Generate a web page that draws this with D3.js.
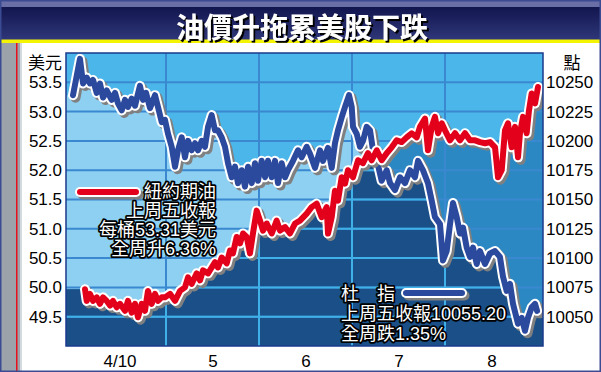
<!DOCTYPE html>
<html>
<head>
<meta charset="utf-8">
<script src="https://d3js.org/d3.v7.min.js"></script>
<style>
body{margin:0;background:#fff;}
svg{display:block;}
text{font-family:"Liberation Sans","Noto Sans CJK TC",sans-serif;}
</style>
</head>
<body>
<svg id="chart" width="601" height="372"></svg>
<script>
var title = "油價升拖累美股下跌";
var dayLabels = ["4/10", "5", "6", "7", "8"];
var dayTicks = [0.5, 1.5, 2.5, 3.5, 4.5];
var dayBounds = [1, 2, 3, 4];
var oilTicks = [49.5, 50.0, 50.5, 51.0, 51.5, 52.0, 52.5, 53.0, 53.5];
var dowTicks = [10050, 10075, 10100, 10125, 10150, 10175, 10200, 10225, 10250];
var oilNote = ["紐約期油", "上周五收報", "每桶53.31美元", "全周升6.36%"];
var dowNote = ["杜　指", "上周五收報10055.20", "全周跌1.35%"];

// [day, points]
var dow = [
  [0,10239],[0.075,10270],[0.108,10249],[0.147,10254],[0.183,10249],[0.215,10252],[0.255,10241],
  [0.29,10249],[0.323,10237],[0.362,10243],[0.416,10235],[0.452,10241],[0.484,10232],[0.524,10226],
  [0.559,10235],[0.591,10229],[0.631,10236],[0.667,10230],[0.72,10247],[0.753,10235],[0.785,10241],
  [0.828,10228],[0.882,10239],[0.914,10229],[0.954,10216],[0.989,10218],[1.022,10206],[1.061,10195],
  [1.097,10178],[1.129,10192],[1.169,10203],[1.204,10186],[1.237,10200],[1.276,10192],[1.312,10198],
  [1.344,10192],[1.384,10200],[1.419,10195],[1.452,10212],[1.491,10222],[1.527,10209],[1.559,10209],
  [1.599,10203],[1.634,10195],[1.667,10181],[1.706,10169],[1.742,10178],[1.774,10164],[1.814,10175],
  [1.849,10161],[1.882,10178],[1.922,10164],[1.957,10181],[1.989,10166],[2.029,10183],[2.065,10169],
  [2.097,10183],[2.137,10169],[2.172,10183],[2.204,10164],[2.244,10181],[2.28,10169],[2.312,10175],
  [2.366,10183],[2.419,10192],[2.459,10186],[2.513,10195],[2.548,10189],[2.602,10177],[2.656,10192],
  [2.688,10183],[2.742,10194],[2.782,10177],[2.817,10198],[2.849,10209],[2.889,10220],[2.925,10229],
  [2.968,10239],[2.997,10229],[3.011,10212],[3.051,10206],[3.086,10195],[3.118,10200],[3.158,10212],
  [3.194,10209],[3.226,10192],[3.269,10183],[3.319,10166],[3.373,10175],[3.409,10164],[3.462,10158],
  [3.516,10169],[3.57,10164],[3.624,10175],[3.677,10169],[3.71,10183],[3.763,10175],[3.817,10164],
  [3.857,10149],[3.892,10135],[3.946,10129],[3.978,10098],[4.018,10106],[4.054,10129],[4.086,10147],
  [4.126,10135],[4.161,10121],[4.194,10126],[4.233,10109],[4.269,10101],[4.301,10109],[4.341,10095],
  [4.376,10106],[4.43,10095],[4.484,10104],[4.538,10106],[4.591,10101],[4.624,10084],[4.663,10072],
  [4.699,10078],[4.731,10061],[4.785,10044],[4.825,10049],[4.86,10038],[4.892,10049],[4.932,10058],
  [4.968,10061],[4.99,10055]
];

// [day, US$]
var oil = [
  [0.129,49.97],[0.147,49.77],[0.183,49.89],[0.215,49.77],[0.255,49.83],[0.29,49.72],[0.323,49.83],
  [0.362,49.77],[0.398,49.69],[0.43,49.77],[0.47,49.66],[0.505,49.72],[0.559,49.6],[0.591,49.77],
  [0.631,49.57],[0.667,49.72],[0.699,49.49],[0.739,49.72],[0.774,49.6],[0.806,49.94],[0.846,49.72],
  [0.882,49.89],[0.914,49.77],[0.954,49.83],[0.989,49.83],[1.043,49.89],[1.097,49.77],[1.151,49.94],
  [1.204,50.0],[1.237,50.17],[1.276,50.06],[1.33,50.24],[1.366,50.12],[1.398,50.29],[1.452,50.24],
  [1.491,50.34],[1.527,50.43],[1.559,50.34],[1.599,50.51],[1.653,50.41],[1.688,50.63],[1.72,50.58],
  [1.76,50.86],[1.796,50.75],[1.828,50.92],[1.868,50.86],[1.903,50.58],[1.935,50.92],[1.975,51.31],
  [2.011,51.14],[2.043,50.97],[2.083,51.09],[2.137,50.92],[2.19,51.14],[2.226,50.97],[2.28,51.03],
  [2.333,50.92],[2.387,51.09],[2.441,51.14],[2.513,51.26],[2.566,51.37],[2.62,51.43],[2.674,51.2],
  [2.728,51.37],[2.742,50.92],[2.782,51.2],[2.817,51.65],[2.849,51.48],[2.889,51.88],[2.925,51.77],
  [2.957,52.0],[3.011,51.88],[3.065,52.17],[3.118,52.12],[3.172,52.29],[3.212,52.17],[3.266,52.34],
  [3.319,52.17],[3.373,52.29],[3.427,52.39],[3.481,52.51],[3.534,52.48],[3.588,52.56],[3.642,52.63],
  [3.696,52.56],[3.731,52.74],[3.785,52.88],[3.817,52.34],[3.857,52.74],[3.892,52.91],[3.925,52.63],
  [3.965,52.8],[4.0,52.68],[4.054,52.51],[4.108,52.63],[4.161,52.51],[4.215,52.63],[4.269,52.51],
  [4.323,52.51],[4.376,52.48],[4.43,52.46],[4.484,52.48],[4.538,52.39],[4.57,51.88],[4.61,52.0],
  [4.645,52.68],[4.677,52.8],[4.717,52.39],[4.753,52.74],[4.785,52.22],[4.806,52.63],[4.839,52.91],
  [4.878,52.63],[4.903,53.02],[4.932,53.31],[4.968,53.14],[5.0,53.42]
];

var W = 601, H = 372;
var plot = {left: 66, right: 543, top: 53, bottom: 346};
var svg = d3.select("#chart");
var defs = svg.append("defs");

// frame / title bar
var grad = defs.append("linearGradient").attr("id", "tg")
  .attr("x1", 0).attr("y1", 0).attr("x2", 0).attr("y2", 1);
grad.append("stop").attr("offset", "0%").attr("stop-color", "#12164f");
grad.append("stop").attr("offset", "100%").attr("stop-color", "#2f3779");
var shadow = defs.append("filter").attr("id", "ts").attr("x", "-10%").attr("y", "-30%")
  .attr("width", "120%").attr("height", "160%");
shadow.append("feDropShadow").attr("dx", 2).attr("dy", 2).attr("stdDeviation", 0.6)
  .attr("flood-color", "#000").attr("flood-opacity", 1);

svg.append("rect").attr("x", 0).attr("y", 0).attr("width", W).attr("height", 8).attr("fill", "#6a6ea6");
svg.append("rect").attr("x", 0).attr("y", 7).attr("width", W).attr("height", 33).attr("fill", "url(#tg)");
svg.append("rect").attr("x", 0).attr("y", 39.5).attr("width", W).attr("height", 3.5).attr("fill", "#f4f400");
svg.append("rect").attr("x", 0).attr("y", 43).attr("width", 20).attr("height", H - 43).attr("fill", "#9ba2aa");
svg.append("rect").attr("x", 20).attr("y", 43).attr("width", 2).attr("height", H - 43).attr("fill", "#d5dae0");
svg.append("rect").attr("x", 16).attr("y", 43).attr("width", 1.5).attr("height", H - 43).attr("fill", "#e8101c");

svg.append("text").attr("x", 302).attr("y", 38).attr("text-anchor", "middle")
  .attr("font-size", 28).attr("font-weight", "bold").attr("fill", "#fff")
  .attr("filter", "url(#ts)")
  .text(title);

// scales
var x = d3.scaleLinear().domain([0, 5]).range([73, 538]);
var y = d3.scaleLinear().domain([49, 54]).range([plot.bottom, plot.top]);
var y2 = d3.scaleLinear().domain([10025, 10275]).range([plot.bottom, plot.top]);

function extend(d) {
  return [[x.invert(plot.left), d[0][1]]].concat(d, [[x.invert(plot.right), d[d.length - 1][1]]]);
}
var dowArea = d3.area().x(d => x(d[0])).y0(plot.bottom).y1(d => y2(d[1]));
var oilArea = d3.area().x(d => x(d[0])).y0(plot.bottom).y1(d => y(d[1]));
var dowLine = d3.line().x(d => x(d[0])).y(d => y2(d[1]));
var oilLine = d3.line().x(d => x(d[0])).y(d => y(d[1]));

defs.append("clipPath").attr("id", "plotClip").append("rect")
  .attr("x", plot.left).attr("y", plot.top)
  .attr("width", plot.right - plot.left).attr("height", plot.bottom - plot.top);
defs.append("clipPath").attr("id", "dowClip").append("path").attr("d", dowArea(extend(dow)));
defs.append("clipPath").attr("id", "oilClip").append("path").attr("d", oilArea(extend(oil)));

var g = svg.append("g").attr("clip-path", "url(#plotClip)");
g.append("rect").attr("x", plot.left).attr("y", plot.top)
  .attr("width", plot.right - plot.left).attr("height", plot.bottom - plot.top).attr("fill", "#4ab6e9");
g.append("path").attr("d", dowArea(extend(dow))).attr("fill", "#8dd0f2");
g.append("path").attr("d", oilArea(extend(oil))).attr("fill", "#2c88c2");
g.append("g").attr("clip-path", "url(#dowClip)")
  .append("path").attr("d", oilArea(extend(oil))).attr("fill", "#1a4f87");

function grid(sel, color) {
  sel.selectAll(".h").data(oilTicks).enter().append("line")
    .attr("x1", plot.left).attr("x2", plot.right)
    .attr("y1", d => y(d)).attr("y2", d => y(d))
    .attr("stroke", color).attr("stroke-width", 2);
  sel.selectAll(".v").data(dayBounds).enter().append("line")
    .attr("x1", d => x(d)).attr("x2", d => x(d))
    .attr("y1", plot.top).attr("y2", plot.bottom)
    .attr("stroke", color).attr("stroke-width", 2);
}
grid(g.append("g"), "#3a88cf");
grid(g.append("g").attr("clip-path", "url(#dowClip)").append("g").attr("clip-path", "url(#oilClip)"), "#3fb0e8");

function fancyLine(sel, d, color) {
  sel.append("path").attr("d", d).attr("fill", "none").attr("transform", "translate(2.5,2.5)")
    .attr("stroke", "#808080").attr("stroke-width", 10).attr("stroke-linejoin", "round").attr("stroke-linecap", "round");
  sel.append("path").attr("d", d).attr("fill", "none")
    .attr("stroke", "#fff").attr("stroke-width", 10).attr("stroke-linejoin", "round").attr("stroke-linecap", "round");
  sel.append("path").attr("d", d).attr("fill", "none")
    .attr("stroke", color).attr("stroke-width", 6).attr("stroke-linejoin", "round").attr("stroke-linecap", "round");
}
fancyLine(g, dowLine(dow), "#2b4a9e");
fancyLine(g, oilLine(oil), "#e3001b");

svg.append("rect").attr("x", plot.left).attr("y", plot.top)
  .attr("width", plot.right - plot.left).attr("height", plot.bottom - plot.top)
  .attr("fill", "none").attr("stroke", "#1b3a8c").attr("stroke-width", 1.5);

// legends
var leg = svg.append("g");
fancyLine(leg, "M80,192L136,192", "#e3001b");
fancyLine(leg, "M406,293L462,293", "#2b4a9e");

function outlined(sel, txt, xx, yy, anchor) {
  sel.append("text").attr("x", xx).attr("y", yy).attr("text-anchor", anchor).attr("font-size", 18)
    .attr("fill", "#fff").attr("stroke", "#000").attr("stroke-width", 3.5)
    .attr("stroke-linejoin", "round").attr("paint-order", "stroke").text(txt);
}
oilNote.forEach((t, i) => outlined(leg, t, 216, 198 + i * 19, "end"));
dowNote.forEach((t, i) => outlined(leg, t, 341, 300 + i * 20, "start"));

// axes
var yAxisL = svg.append("g").attr("transform", "translate(" + plot.left + ",0)")
  .call(d3.axisLeft(y).tickValues(oilTicks).tickFormat(d3.format(".1f")).tickSize(0).tickPadding(4));
var yAxisR = svg.append("g").attr("transform", "translate(" + plot.right + ",0)")
  .call(d3.axisRight(y2).tickValues(dowTicks).tickSize(0).tickPadding(3).tickFormat(d3.format("d")));
var xAxis = svg.append("g").attr("transform", "translate(0," + plot.bottom + ")")
  .call(d3.axisBottom(x).tickValues(dayTicks).tickFormat((d, i) => dayLabels[i]).tickSize(0).tickPadding(9));
[yAxisL, yAxisR, xAxis].forEach(a => {
  a.select(".domain").remove();
  a.selectAll("text").attr("font-size", 17).attr("fill", "#000")
    .attr("font-family", "'Liberation Sans','Noto Sans CJK TC',sans-serif");
});

svg.append("text").attr("x", 62).attr("y", 69).attr("text-anchor", "end").attr("font-size", 17).text("美元");
svg.append("text").attr("x", 572).attr("y", 69).attr("text-anchor", "middle").attr("font-size", 17).text("點");

svg.append("rect").attr("x", 0.75).attr("y", 0.75).attr("width", W - 1.5).attr("height", H - 1.5)
  .attr("fill", "none").attr("stroke", "#3b4b93").attr("stroke-width", 1.5);
</script>
</body>
</html>
